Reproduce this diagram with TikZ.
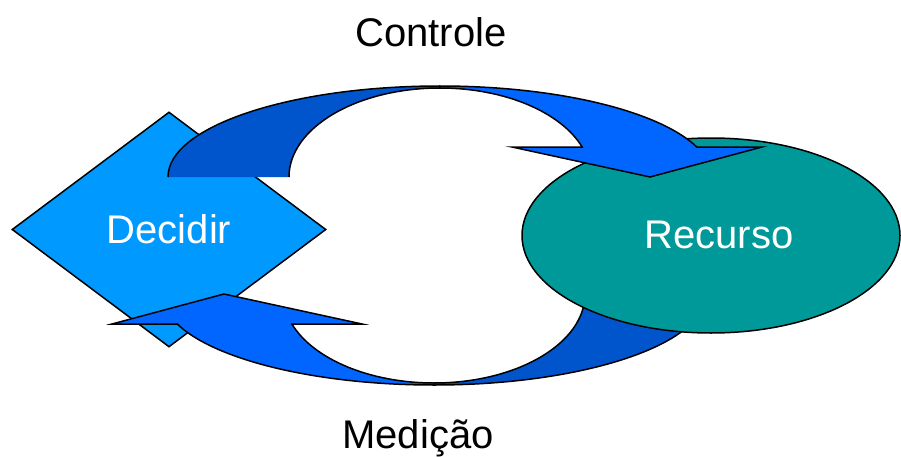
\documentclass[tikz,border=0pt]{standalone}
\usepackage{fontspec}
\setmainfont{Liberation Sans}
\usetikzlibrary{shapes.geometric}

\definecolor{decide}{HTML}{0099FF}
\definecolor{resource}{HTML}{009999}
\definecolor{tailblue}{HTML}{0055CC}
\definecolor{headblue}{HTML}{0066FF}

\tikzset{
  outline/.style={draw=black, line width=1.5pt, line join=miter},
  bigtext/.style={font=\fontsize{40}{48}\selectfont, anchor=base, inner sep=0pt},
  % tail half of a curved block arrow (open at its base)
  tailfill/.style={fill=tailblue},
  headpart/.style={outline, fill=headblue},
}

% shaded tail half of the curved arrow, centred on (440,279)
\newcommand{\arrowtail}{%
  \fill[tailfill] (168,279) arc[start angle=180, end angle=90, x radius=272, y radius=91]
     -- (440,368) arc[start angle=90, end angle=180, x radius=151, y radius=89] -- cycle;
  \draw[outline] (168,279) arc[start angle=180, end angle=90, x radius=272, y radius=91];
  \draw[outline] (440,368) arc[start angle=90, end angle=180, x radius=151, y radius=89];
}
% bright half of the curved arrow with its head
\newcommand{\arrowhead}{%
  \draw[headpart] (440,370) arc[start angle=90, end angle=19.25, x radius=272, y radius=91]
     -- (762,309) -- (650,279) -- (512,309) -- (582.1,309)
     arc[start angle=19.7, end angle=90, x radius=151, y radius=89] -- cycle;
}

\begin{document}
\begin{tikzpicture}[x=1pt, y=1pt]
  \useasboundingbox (0,0) rectangle (901,456);

  % decision diamond
  \node[outline, fill=decide, shape=diamond, inner sep=0pt,
        minimum width=314pt, minimum height=235pt] (decidir) at (169,226.5) {};

  % lower arrow, tail part (lies under the resource ellipse)
  \begin{scope}[rotate around={180:(437,220.5)}]
    \arrowtail
  \end{scope}

  % resource ellipse
  \node[outline, fill=resource, shape=ellipse, inner sep=0pt,
        minimum width=378pt, minimum height=195pt] (recurso) at (711,220.5) {};

  % upper arrow: Decidir -> Recurso
  \arrowtail
  \arrowhead

  % lower arrow head part: Recurso -> Decidir
  \begin{scope}[rotate around={180:(437,220.5)}]
    \arrowhead
  \end{scope}

  % labels
  \node[bigtext, text=white] (tdecidir) at (169,213) {Decidir};
  \node[bigtext, text=white] (trecurso) at (719,208) {Recurso};
  \node[bigtext] (controle) at (431,409) {Controle};
  \node[bigtext] (medicao) at (418,8) {Medição};
\end{tikzpicture}
\end{document}
